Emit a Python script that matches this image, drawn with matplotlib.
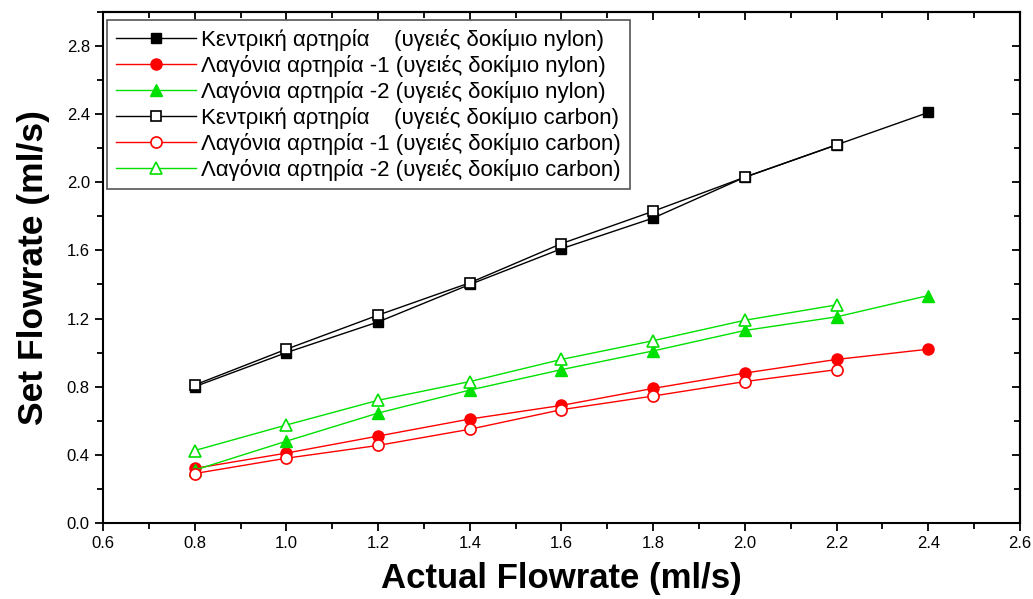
import numpy as np
import matplotlib
matplotlib.use("Agg")
import matplotlib.pyplot as plt
from matplotlib.ticker import MultipleLocator

plt.rcParams['font.family'] = ['Liberation Sans', 'DejaVu Sans']

# actual flowrate (ml/s)
x_nylon = [0.8, 1.0, 1.2, 1.4, 1.6, 1.8, 2.0, 2.2, 2.4]
x_carbon = [0.8, 1.0, 1.2, 1.4, 1.6, 1.8, 2.0, 2.2]

# set flowrate (ml/s)
kentriki_nylon = [0.80, 1.00, 1.18, 1.40, 1.61, 1.79, 2.03, 2.22, 2.41]
lagonia1_nylon = [0.32, 0.41, 0.51, 0.61, 0.69, 0.79, 0.88, 0.96, 1.02]
lagonia2_nylon = [0.31, 0.48, 0.645, 0.78, 0.90, 1.01, 1.13, 1.21, 1.335]
kentriki_carbon = [0.81, 1.02, 1.22, 1.41, 1.64, 1.83, 2.03, 2.22]
lagonia1_carbon = [0.29, 0.38, 0.455, 0.55, 0.665, 0.745, 0.83, 0.90]
lagonia2_carbon = [0.425, 0.575, 0.72, 0.83, 0.96, 1.07, 1.19, 1.28]

labels = ["Κεντρική αρτηρία    (υγειές δοκίμιο nylon)",
          "Λαγόνια αρτηρία -1 (υγειές δοκίμιο nylon)",
          "Λαγόνια αρτηρία -2 (υγειές δοκίμιο nylon)",
          "Κεντρική αρτηρία    (υγειές δοκίμιο carbon)",
          "Λαγόνια αρτηρία -1 (υγειές δοκίμιο carbon)",
          "Λαγόνια αρτηρία -2 (υγειές δοκίμιο carbon)"]

green = "#00e000"

fig = plt.figure(figsize=(10.33, 5.99), dpi=100)
ax = fig.add_axes([0.0997, 0.127, 0.8877, 0.853])

ms = 7
ax.plot(x_nylon, kentriki_nylon, '-s', color='black', lw=1, ms=ms, mfc='black', label=labels[0])
ax.plot(x_nylon, lagonia1_nylon, '-o', color='red', lw=1, ms=ms + 1, mfc='red', label=labels[1])
ax.plot(x_nylon, lagonia2_nylon, '-^', color=green, lw=1, ms=ms + 1, mfc=green, label=labels[2])
ax.plot(x_carbon, kentriki_carbon, '-s', color='black', lw=1, ms=ms, mfc='white', mew=1.2, label=labels[3])
ax.plot(x_carbon, lagonia1_carbon, '-o', color='red', lw=1, ms=ms + 1, mfc='white', mew=1.2, label=labels[4])
ax.plot(x_carbon, lagonia2_carbon, '-^', color=green, lw=1, ms=ms + 1, mfc='white', mew=1.2, label=labels[5])

ax.set_xlim(0.6, 2.6)
ax.set_ylim(0.0, 3.0)
ax.xaxis.set_major_locator(MultipleLocator(0.2))
ax.xaxis.set_minor_locator(MultipleLocator(0.1))
ax.yaxis.set_major_locator(MultipleLocator(0.4))
ax.yaxis.set_minor_locator(MultipleLocator(0.2))
ax.xaxis.set_major_formatter(plt.FormatStrFormatter('%.1f'))
ax.yaxis.set_major_formatter(plt.FormatStrFormatter('%.1f'))

ax.tick_params(which='both', direction='out', width=1.3, labelsize=12)
ax.tick_params(which='major', length=6)
ax.tick_params(which='minor', length=4)

# top and right ticks point inward
top = ax.secondary_xaxis('top')
right = ax.secondary_yaxis('right')
top.xaxis.set_major_locator(MultipleLocator(0.2))
top.xaxis.set_minor_locator(MultipleLocator(0.1))
right.yaxis.set_major_locator(MultipleLocator(0.4))
right.yaxis.set_minor_locator(MultipleLocator(0.2))
for sec in (top, right):
    sec.tick_params(which='both', direction='in', width=1.3, labelleft=False,
                    labelright=False, labeltop=False, labelbottom=False)
    sec.tick_params(which='major', length=6)
    sec.tick_params(which='minor', length=4)
    for s in sec.spines.values():
        s.set_linewidth(1.5)
for s in ax.spines.values():
    s.set_linewidth(1.5)

ax.set_xlabel("Actual Flowrate (ml/s)", fontsize=25, fontweight='bold', labelpad=8)
ax.set_ylabel("Set Flowrate (ml/s)", fontsize=25.5, fontweight='bold', labelpad=12)

leg = ax.legend(loc='upper left', bbox_to_anchor=(0.004, 0.985), borderaxespad=0,
                fontsize=16, frameon=True, fancybox=False, edgecolor='#555555',
                framealpha=1, handlelength=3.6, labelspacing=0.18, borderpad=0.4,
                handletextpad=0.25)
leg.get_frame().set_linewidth(1.2)

fig.savefig("out.png", dpi=100)
